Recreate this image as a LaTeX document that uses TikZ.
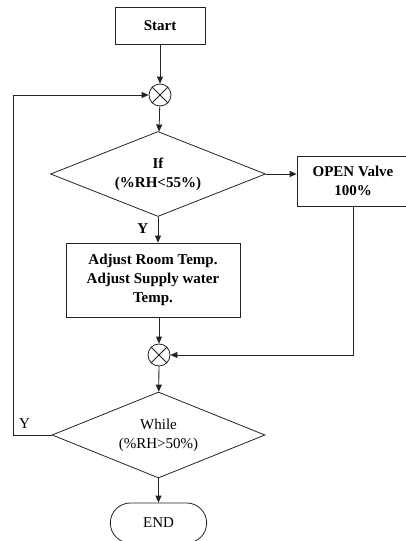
\documentclass[tikz,border=0pt]{standalone}
\usepackage{fontspec}
\setmainfont{Liberation Serif}
\usepackage{tikz}
\usetikzlibrary{arrows.meta, positioning, shapes.geometric, shapes.misc}
\definecolor{flowink}{RGB}{35,35,35}

\begin{document}
\begin{tikzpicture}[
  x=1pt, y=-1pt,
  font=\fontsize{15}{19}\selectfont,
  box/.style={draw=flowink, line width=0.8pt, align=center, inner sep=2pt},
  cond/.style={draw=flowink, line width=0.8pt, diamond, aspect=2.5, align=center, inner sep=0pt},
  junction/.style={draw=flowink, line width=0.8pt, circle, minimum size=22pt, inner sep=0pt},
  arr/.style={-{Triangle[length=7pt, width=6pt]}, line width=0.8pt, draw=flowink}
]
  \useasboundingbox (0,0) rectangle (405,541);
  \node[box, minimum width=90pt, minimum height=37pt, font=\fontsize{15}{19}\selectfont\bfseries] (start) at (160,25.5) {Start};
  \node[junction] (sumA) at (160,95) {};
  \node[cond, minimum width=215pt, minimum height=85pt, font=\fontsize{15}{19}\selectfont\bfseries] (ifrh) at (158,174) {If\\(\%RH<55\%)};
  \node[box, minimum width=112pt, minimum height=50pt, font=\fontsize{15}{19}\selectfont\bfseries] (valve) at (353,181) {OPEN Valve\\100\%};
  \node[box, minimum width=174pt, minimum height=74pt, font=\fontsize{15}{19}\selectfont\bfseries] (adjust) at (153,280) {Adjust Room Temp.\\Adjust Supply water\\Temp.};
  \node[junction] (sumB) at (159,355) {};
  \node[cond, minimum width=213pt, minimum height=86pt] (whilerh) at (158.5,435) {While\\(\%RH>50\%)};
  \node[draw=flowink, line width=0.8pt, rounded rectangle, minimum width=103pt, minimum height=40pt] (finish) at (158.5,523) {END};

  % crosses in the junctions
  \foreach \s in {sumA, sumB} {
    \draw[line width=0.8pt, draw=flowink] (\s.north west) -- (\s.south east);
    \draw[line width=0.8pt, draw=flowink] (\s.north east) -- (\s.south west);
  }

  \draw[arr] (start) -- (sumA);
  \draw[arr] (sumA) -- (ifrh);
  \draw[arr] (ifrh.east) -- (ifrh.east -| valve.west);
  \draw[arr] (ifrh.south) -- node[left=6pt, pos=0.45, font=\fontsize{15}{19}\selectfont\bfseries] {Y} (ifrh.south |- adjust.north);
  \draw[arr] (adjust.south -| sumB) -- (sumB);
  \draw[arr] (valve.south) |- (sumB.east);
  \draw[arr] (sumB) -- (whilerh);
  \draw[arr] (whilerh.south) -- (finish.north -| whilerh.south);
  \draw[arr] (whilerh.west) -- node[above=3pt, pos=0.7] {Y} (13,435) |- (sumA.west);
\end{tikzpicture}
\end{document}
